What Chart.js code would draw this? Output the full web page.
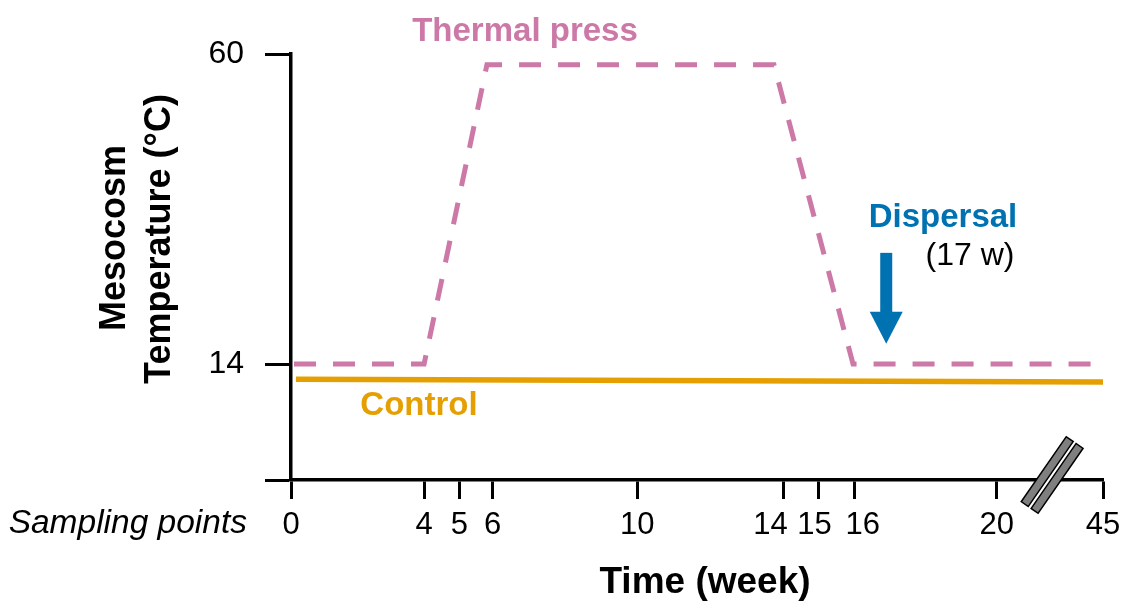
<!DOCTYPE html>
<html>
<head>
<meta charset="utf-8">
<script src="https://cdn.jsdelivr.net/npm/chart.js@4.4.1/dist/chart.umd.min.js"></script>
<style>
  html, body { margin: 0; padding: 0; background: #fff; }
  #wrap { width: 1135px; height: 603px; }
</style>
</head>
<body>
<div id="wrap"><canvas id="tempChart" width="1135" height="603"></canvas></div>
<script>
// x is the position along the drawn (schematic) time axis;
// the last sampling point (week 45) sits after the axis break
const thermalX = [0.085, 3.77, 5.55, 13.68, 15.92, 23];
const thermalTemps = [14, 14, 58.4, 58.4, 14, 14];
const controlX = [0.14, 23];
const controlTemps = [11.75, 11.35];
const sampleX = [0, 3.77, 4.77, 5.71, 9.81, 13.95, 14.95, 15.95, 19.99, 23];
const sampleLabels = ["0", "4", "5", "6", "10", "14", "15", "16", "20", "45"];
const tempTicks = [14, 60];
const dispersalX = 16.86;
const breakX = 21.56;
const yMin = -3.2;
const yMax = 60;

const PINK = "#CC79A7";
const ORANGE = "#E69F00";
const BLUE = "#0072B2";
const FONT = "'Liberation Sans', Arial, Helvetica, sans-serif";

// the crowded labels 14 / 15 / 16 are spread apart in the figure
const labelSpread = { "14": [0, 3], "15": [0, 1], "16": [2, 0] };

function toPoints(xs, ys) {
  return xs.map(function (x, i) { return { x: x, y: ys[i] }; });
}

const annotations = {
  id: "annotations",
  afterDatasetsDraw: function (chart) {
    const ctx = chart.ctx;
    const xs = chart.scales.x;
    const ys = chart.scales.y;
    ctx.save();

    // axis break marks
    ctx.save();
    ctx.translate(xs.getPixelForValue(breakX), ys.bottom - 5);
    ctx.rotate(Math.atan2(-65, 45));
    ctx.fillStyle = "#fff";
    ctx.fillRect(-39.5, -10, 79, 20);
    ctx.fillStyle = "#7f7f7f";
    ctx.strokeStyle = "#000";
    ctx.lineWidth = 1.5;
    [-6, 6].forEach(function (off) {
      ctx.fillRect(-39.5, off - 4.25, 79, 8.5);
      ctx.strokeRect(-39.5, off - 4.25, 79, 8.5);
    });
    ctx.restore();

    // dispersal arrow
    const ax = xs.getPixelForValue(dispersalX);
    const top = ys.getPixelForValue(30.5);
    const tip = ys.getPixelForValue(17);
    ctx.fillStyle = BLUE;
    ctx.fillRect(ax - 6, top, 12, tip - 31 - top);
    ctx.beginPath();
    ctx.moveTo(ax - 16.5, tip - 32);
    ctx.lineTo(ax + 16.5, tip - 32);
    ctx.lineTo(ax, tip);
    ctx.closePath();
    ctx.fill();

    // labels
    ctx.textBaseline = "alphabetic";
    ctx.textAlign = "center";
    ctx.font = "bold 33px " + FONT;
    ctx.fillStyle = PINK;
    ctx.fillText("Thermal press", 525, 41);
    ctx.fillStyle = BLUE;
    ctx.fillText("Dispersal", 943, 227);
    ctx.fillStyle = ORANGE;
    ctx.fillText("Control", 419, 415);
    ctx.font = "32px " + FONT;
    ctx.fillStyle = "#000";
    ctx.fillText("(17 w)", 970, 265);

    ctx.font = "bold 37px " + FONT;
    ctx.fillText("Time (week)", 705, 593);

    ctx.textAlign = "right";
    ctx.font = "italic 33.5px " + FONT;
    ctx.fillText("Sampling points", 247, 533);

    ctx.textAlign = "center";
    ctx.font = "bold 36px " + FONT;
    ctx.save();
    ctx.translate(125, 238);
    ctx.rotate(-Math.PI / 2);
    ctx.fillText("Mesocosm", 0, 0);
    ctx.restore();
    ctx.save();
    ctx.translate(170, 239);
    ctx.rotate(-Math.PI / 2);
    ctx.fillText("Temperature (\u00B0C)", 0, 0);
    ctx.restore();

    ctx.restore();
  }
};

new Chart(document.getElementById("tempChart").getContext("2d"), {
  type: "line",
  data: {
    datasets: [
      {
        label: "Thermal press",
        data: toPoints(thermalX, thermalTemps),
        borderColor: PINK,
        borderWidth: 5,
        borderDash: [22, 17],
        borderJoinStyle: "miter",
        pointRadius: 0,
        tension: 0,
        fill: false,
      },
      {
        label: "Control",
        data: toPoints(controlX, controlTemps),
        borderColor: ORANGE,
        borderWidth: 5.5,
        pointRadius: 0,
        tension: 0,
        fill: false,
      },
    ],
  },
  options: {
    responsive: false,
    animation: false,
    layout: { padding: { left: 0, right: 32, top: 54, bottom: 0 } },
    plugins: {
      legend: { display: false },
      tooltip: { enabled: false },
    },
    scales: {
      x: {
        type: "linear",
        min: 0,
        max: 23,
        afterBuildTicks: function (s) {
          s.ticks = sampleX.map(function (v) { return { value: v }; });
        },
        afterFit: function (s) { s.height = 123; },
        ticks: {
          autoSkip: false,
          maxRotation: 0,
          color: "#000",
          padding: 8,
          font: { family: FONT, size: 31 },
          callback: function (v, i) {
            const lab = sampleLabels[i];
            const pad = labelSpread[lab] || [0, 0];
            return " ".repeat(pad[0]) + lab + " ".repeat(pad[1]);
          },
        },
        grid: {
          drawOnChartArea: false,
          tickLength: 19,
          tickWidth: 3,
          tickColor: "#000",
        },
        border: { display: true, color: "#000", width: 3.5 },
      },
      y: {
        type: "linear",
        min: yMin,
        max: yMax,
        afterBuildTicks: function (s) {
          s.ticks = [yMin].concat(tempTicks).map(function (v) { return { value: v }; });
        },
        afterFit: function (s) { s.width = 291; },
        ticks: {
          color: "#000",
          padding: 21,
          font: { family: FONT, size: 32 },
          callback: function (v) { return tempTicks.includes(v) ? String(v) : ""; },
        },
        grid: {
          drawOnChartArea: false,
          tickLength: 26,
          tickWidth: 3,
          tickColor: "#000",
        },
        border: { display: true, color: "#000", width: 3.5 },
      },
    },
  },
  plugins: [annotations],
});
</script>
</body>
</html>
